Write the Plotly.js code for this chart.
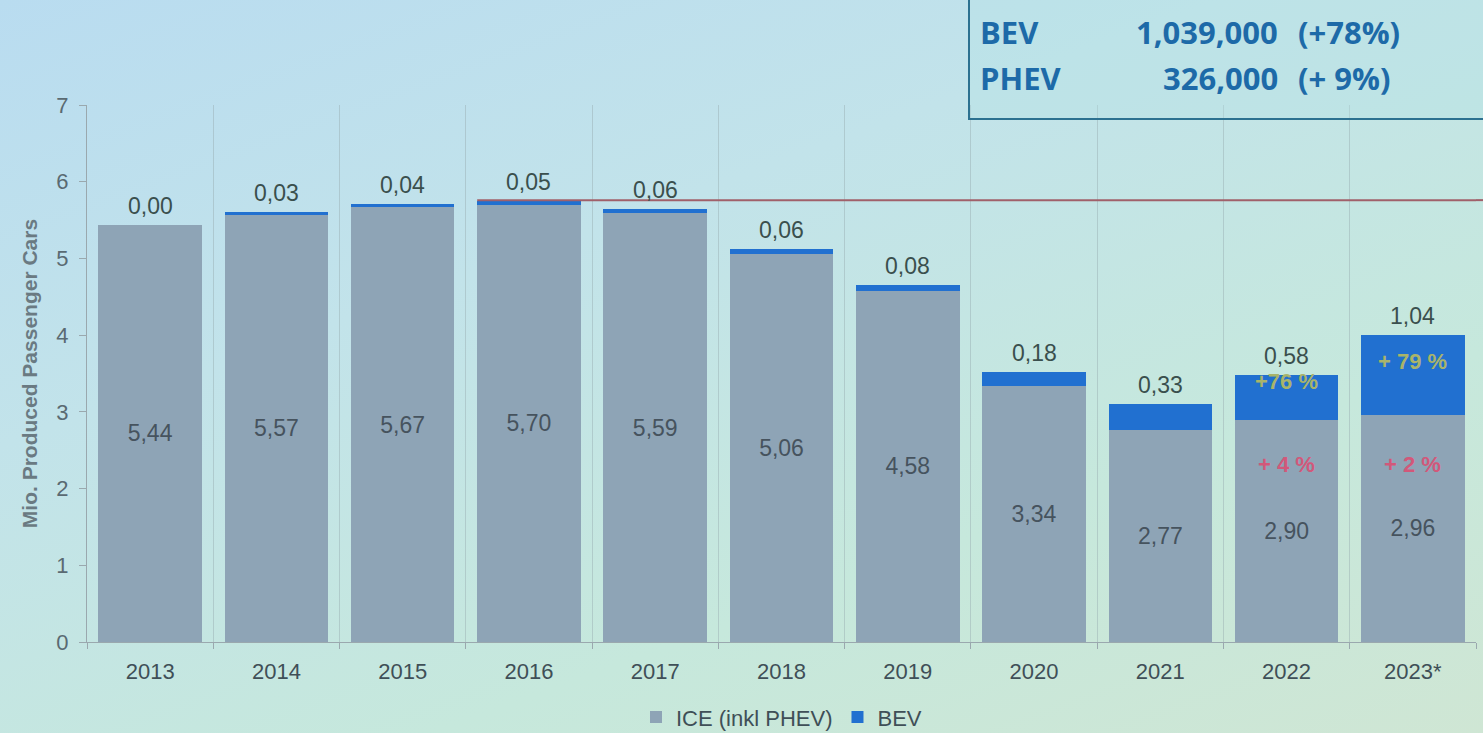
<!DOCTYPE html>
<html>
<head>
<meta charset="utf-8">
<script src="https://cdn.plot.ly/plotly-3.0.1.min.js"></script>
<style>
html,body{margin:0;padding:0;}
body{width:1483px;height:733px;background:linear-gradient(160deg,#b9dcf0 0%,#c2e3ea 35%,#c6e8dc 70%,#cfe6d4 100%);overflow:hidden;}
#chart{width:1483px;height:733px;}
</style>
</head>
<body>
<div id="chart"></div>
<script>
const years = ["2013","2014","2015","2016","2017","2018","2019","2020","2021","2022","2023*"];
const ice = [5.44,5.57,5.67,5.70,5.59,5.06,4.58,3.34,2.77,2.90,2.96];
const bev = [0.00,0.03,0.04,0.05,0.06,0.06,0.08,0.18,0.33,0.58,1.04];
const bevGrowth = {"2022":"+76 %","2023*":"+ 79 %"};
const iceGrowth = {"2022":"+ 4 %","2023*":"+ 2 %"};
const peakLevel = 5.76;
const boxRows = [["BEV","1,039,000","(+78%)"],["PHEV","326,000","(+ 9%)"]];

const fmt = v => v.toFixed(2).replace('.', ',');
const font = "Liberation Sans, Arial, sans-serif";

const traces = [
  {type:'bar', name:'ICE (inkl PHEV)', x:years, y:ice,
   marker:{color:'#8ea4b6', line:{width:0}},
   text:ice.map(fmt), textposition:'inside', insidetextanchor:'middle',
   textfont:{family:font,size:23,color:'#46535e'}, hoverinfo:'x+y'},
  {type:'bar', name:'BEV', x:years, y:bev,
   marker:{color:'#2170d0', line:{width:0}}, hoverinfo:'x+y'}
];

const annotations = [];
years.forEach((yr,i)=>{
  annotations.push({x:i, y:ice[i]+bev[i], xref:'x', yref:'y', text:fmt(bev[i]),
    showarrow:false, yanchor:'bottom', yshift:4,
    font:{family:font,size:23,color:'#3a4f4d'}});
});
Object.keys(bevGrowth).forEach(yr=>{
  const i = years.indexOf(yr);
  annotations.push({x:i, y:ice[i]+bev[i], xref:'x', yref:'y', text:'<b>'+bevGrowth[yr]+'</b>',
    showarrow:false, yanchor:'top', yshift:(yr==="2022"?8:-12),
    font:{family:font,size:22,color:'#a9b46a'}});
});
Object.keys(iceGrowth).forEach(yr=>{
  const i = years.indexOf(yr);
  annotations.push({x:i, y:2.32, xref:'x', yref:'y', text:'<b>'+iceGrowth[yr]+'</b>',
    showarrow:false, font:{family:font,size:22,color:'#d2587a'}});
});
// info box text
boxRows.forEach((r,k)=>{
  const yp = 32 + k*46;
  annotations.push({xref:'paper', yref:'paper', x:(978-87)/1389, y:1+(105-yp)/537, xanchor:'left', yanchor:'middle',
    text:'<b>'+r[0]+'</b>', showarrow:false, font:{family:'Open Sans, sans-serif',size:31,color:'#1d6aa8'}});
  annotations.push({xref:'paper', yref:'paper', x:(1280-87)/1389, y:1+(105-yp)/537, xanchor:'right', yanchor:'middle',
    text:'<b>'+r[1]+'</b>', showarrow:false, font:{family:'Open Sans, sans-serif',size:31,color:'#1d6aa8'}});
  annotations.push({xref:'paper', yref:'paper', x:(1296-87)/1389, y:1+(105-yp)/537, xanchor:'left', yanchor:'middle',
    text:'<b>'+r[2]+'</b>', showarrow:false, font:{family:'Open Sans, sans-serif',size:31,color:'#1d6aa8'}});
});

const layout = {
  width:1483, height:733,
  margin:{l:87, r:7, t:105, b:91, autoexpand:false},
  paper_bgcolor:'rgba(0,0,0,0)', plot_bgcolor:'rgba(0,0,0,0)',
  barmode:'stack', bargap:0.18,
  showlegend:true,
  legend:{orientation:'h', x:0.5, xanchor:'center', y:-0.14, yanchor:'middle',
    font:{family:font,size:22,color:'#3f4f57'}, itemwidth:30, traceorder:'normal'},
  xaxis:{type:'category', range:[-0.5,10.5], tickson:'boundaries', showgrid:true, gridcolor:'rgba(150,170,175,0.45)', gridwidth:1,
    ticks:'outside', ticklen:6, tickcolor:'#9aa8ae', showline:true, linecolor:'#9aa8ae', tickangle:0,
    ticklabelstandoff:10, automargin:false,
    tickfont:{family:font,size:22,color:'#3f4f57'}, fixedrange:true},
  yaxis:{range:[0,7], dtick:1, showgrid:false, zeroline:false, ticks:'outside', ticklen:7, tickcolor:'#9aa8ae',
    showline:true, linecolor:'#9aa8ae', tickfont:{family:font,size:22,color:'#5a6a72'}, ticklabelstandoff:6,
    automargin:false,
    title:{text:'<b>Mio. Produced Passenger Cars</b>', font:{family:font,size:21,color:'#6a7a82'}, standoff:12}},
  shapes:[
    {type:'line', xref:'x', yref:'y', x0:2.59, x1:10.5, y0:peakLevel, y1:peakLevel,
     line:{color:'#a0606a', width:2}},
    {type:'line', xref:'paper', yref:'y', x0:1, x1:1.01, y0:peakLevel, y1:peakLevel,
     line:{color:'#a0606a', width:2}},
    {type:'rect', xref:'paper', yref:'paper', x0:(969-87)/1389, x1:1.02, y0:1+(105-119)/537, y1:1+(105-(-5))/537,
     line:{color:'#2c7190', width:2}, fillcolor:'rgba(180,225,228,0.35)'}
  ],
  annotations:annotations
};
Plotly.newPlot('chart', traces, layout, {displayModeBar:false, staticPlot:true});
</script>
</body>
</html>
